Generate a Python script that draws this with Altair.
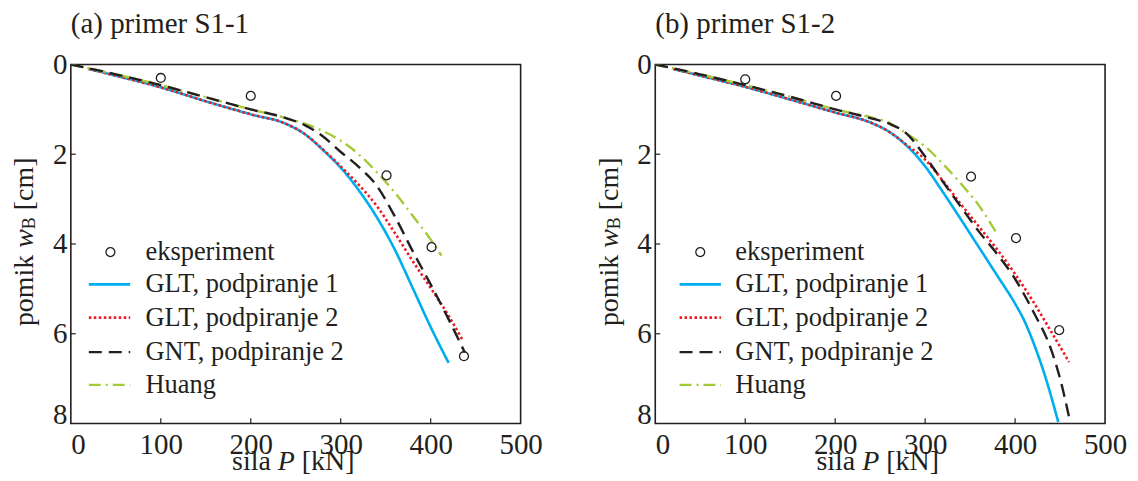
import altair as alt
import pandas as pd

FONT = "Liberation Serif"
INK = "#231F20"

# ---------------- data ----------------
SERIES = ["GLT, podpiranje 1", "GLT, podpiranje 2", "GNT, podpiranje 2", "Huang"]
EXP_LABEL = "eksperiment"

# panel (a) primer S1-1
a_exp_P = [100, 200, 351, 401, 437]
a_exp_w = [0.30, 0.70, 2.47, 4.07, 6.50]
a_glt1_P = [20, 50, 100, 150, 200, 240, 260, 280, 300, 320, 340, 360, 380, 400, 420]
a_glt1_w = [0.10, 0.25, 0.51, 0.82, 1.11, 1.33, 1.55, 1.90, 2.30, 2.80, 3.40, 4.12, 4.98, 5.85, 6.65]
a_glt2_P = [20, 50, 100, 150, 200, 240, 260, 280, 300, 320, 340, 360, 380, 400, 420, 436]
a_glt2_w = [0.10, 0.25, 0.51, 0.82, 1.11, 1.33, 1.55, 1.89, 2.27, 2.68, 3.15, 3.75, 4.38, 4.98, 5.60, 6.16]
a_gnt_P = [0, 50, 100, 150, 200, 240, 260, 280, 300, 320, 340, 360, 380, 400, 420, 438]
a_gnt_w = [0.00, 0.22, 0.46, 0.73, 1.00, 1.20, 1.35, 1.60, 1.95, 2.28, 2.70, 3.38, 4.16, 4.90, 5.68, 6.42]
a_huang_P = [0, 50, 100, 150, 200, 240, 260, 280, 300, 320, 340, 360, 380, 400, 412]
a_huang_w = [0.00, 0.22, 0.46, 0.73, 1.00, 1.20, 1.32, 1.48, 1.70, 2.00, 2.40, 2.85, 3.37, 3.90, 4.26]

# panel (b) primer S1-2
b_exp_P = [100, 201, 351, 401, 449]
b_exp_w = [0.33, 0.70, 2.50, 3.87, 5.92]
b_glt1_P = [20, 50, 100, 150, 200, 240, 260, 280, 300, 320, 340, 360, 380, 400, 410, 420, 435, 448]
b_glt1_w = [0.10, 0.25, 0.50, 0.78, 1.07, 1.30, 1.50, 1.82, 2.27, 2.85, 3.46, 4.08, 4.70, 5.33, 5.70, 6.18, 7.05, 7.97]
b_glt2_P = [20, 50, 100, 150, 200, 240, 260, 280, 300, 320, 340, 360, 380, 400, 420, 440, 460]
b_glt2_w = [0.10, 0.25, 0.50, 0.78, 1.07, 1.30, 1.50, 1.80, 2.12, 2.60, 3.12, 3.62, 4.12, 4.67, 5.28, 5.95, 6.63]
b_gnt_P = [0, 50, 100, 150, 200, 240, 260, 280, 300, 320, 340, 360, 380, 400, 420, 440, 450, 461]
b_gnt_w = [0.00, 0.22, 0.46, 0.72, 1.00, 1.20, 1.32, 1.55, 2.05, 2.62, 3.18, 3.73, 4.22, 4.78, 5.50, 6.35, 7.00, 7.95]
b_huang_P = [0, 50, 100, 150, 200, 240, 260, 280, 300, 320, 340, 360, 380]
b_huang_w = [0.00, 0.22, 0.46, 0.72, 1.00, 1.18, 1.30, 1.55, 1.83, 2.22, 2.66, 3.15, 3.78]

x_ticks = [0, 100, 200, 300, 400, 500]
y_ticks = [0, 2, 4, 6, 8]

# legend placement (data units of each panel)
legend_rows_w = [4.18, 4.90, 5.64, 6.41, 7.14]
a_leg = dict(circle=44, line0=20, line1=66, text=83)
b_leg = dict(circle=50, line0=27, line1=73, text=89)

# ---------------- styles ----------------
COLORS = ["#00AEEF", "#ED1C24", "#231F20", "#A3CB38"]
DASHES = [[1, 0], [2.5, 2.5], [13, 7], [12, 5, 2, 5]]
WIDTHS = [2.6, 2.6, 2.4, 2.4]
DRAW_ORDER = [0, 1, 3, 2]
W, H = 451, 360


def panel(title, exp_P, exp_w, curves, leg):
    xs = alt.Scale(domain=[0, 500], nice=False)
    ys = alt.Scale(domain=[0, 8], nice=False, reverse=True)
    xaxis = alt.Axis(values=x_ticks, title=None, domain=False, ticks=False, grid=False,
                     labelFont=FONT, labelFontSize=29, labelColor=INK, labelPadding=7,
                     labelAlign={"condition": {"test": "datum.value === 0", "value": "left"}, "value": "center"})
    yaxis = alt.Axis(values=y_ticks, title=None, domain=False, ticks=False, grid=False,
                     labelFont=FONT, labelFontSize=29, labelColor=INK, labelPadding=4,
                     labelBaseline={"condition": {"test": "datum.value === 8", "value": "alphabetic"}, "value": "middle"})
    X = alt.X("P:Q", scale=xs, axis=xaxis)
    Y = alt.Y("w:Q", scale=ys, axis=yaxis)
    Xn = alt.X("P:Q", scale=xs)
    Yn = alt.Y("w:Q", scale=ys)

    layers = []
    # inward ticks
    xt = pd.DataFrame({"P": x_ticks[1:-1], "w": [8] * 4, "w2": [8 - 0.12] * 4})
    layers.append(alt.Chart(xt).mark_rule(color=INK, strokeWidth=1.2).encode(x=X, y=Y, y2="w2:Q"))
    yt = pd.DataFrame({"P": [0] * 3, "P2": [5.5] * 3, "w": y_ticks[1:-1]})
    layers.append(alt.Chart(yt).mark_rule(color=INK, strokeWidth=1.2).encode(x=Xn, x2="P2:Q", y=Yn))

    for i in DRAW_ORDER:
        P, w = curves[i]
        df = pd.DataFrame({"P": P, "w": w})
        layers.append(alt.Chart(df).mark_line(color=COLORS[i], strokeDash=DASHES[i],
                                              strokeWidth=WIDTHS[i], clip=True,
                                              interpolate="monotone")
                      .encode(x=Xn, y=Yn))
        ld = pd.DataFrame({"P": [leg["line0"]], "P2": [leg["line1"]], "w": [legend_rows_w[i + 1]]})
        layers.append(alt.Chart(ld).mark_rule(color=COLORS[i], strokeDash=DASHES[i],
                                              strokeWidth=WIDTHS[i])
                      .encode(x=Xn, x2="P2:Q", y=Yn))

    ex = pd.DataFrame({"P": exp_P + [leg["circle"]], "w": exp_w + [legend_rows_w[0]]})
    layers.append(alt.Chart(ex).mark_point(shape="circle", filled=False, size=80,
                                           stroke=INK, strokeWidth=1.3, opacity=1)
                  .encode(x=Xn, y=Yn))

    lt = pd.DataFrame({"P": [leg["text"]] * 5, "w": legend_rows_w, "label": [EXP_LABEL] + SERIES})
    layers.append(alt.Chart(lt).mark_text(align="left", baseline="middle", font=FONT,
                                          fontSize=26.5, color=INK)
                  .encode(x=Xn, y=Yn, text="label:N"))

    def txt(s, x, y, size=28, style="normal", align="left", angle=0):
        return alt.Chart(pd.DataFrame({"t": [s]})).mark_text(
            align=align, baseline="alphabetic", font=FONT, fontSize=size, fontStyle=style,
            color=INK, angle=angle).encode(x=alt.value(x), y=alt.value(y), text="t:N")

    # panel title
    layers.append(txt(title, 0, -31.2, size=29))
    # x title: sila P [kN]   (pieces, 7px word gap)
    x0, xb = 207.5, 407.0
    layers.append(txt("sila", x0 - 7, xb, align="right"))
    layers.append(txt("P", x0, xb, style="italic"))
    layers.append(txt("[kN]", x0 + 17.1 + 7, xb))
    # y title: pomik w_B [cm]  (rotated, reading upward)
    yx, y0 = -37.5, 183.8
    layers.append(txt("pomik", yx, y0 + 7, align="right", angle=270))
    layers.append(txt("w", yx, y0, style="italic", angle=270))
    layers.append(txt("B", yx + 2, y0 - 18.7, size=18, angle=270))
    layers.append(txt("[cm]", yx, y0 - 18.7 - 12.0 - 7, angle=270))

    return alt.layer(*layers).properties(width=W, height=H)


pa = panel("(a) primer S1-1", a_exp_P, a_exp_w,
           [(a_glt1_P, a_glt1_w), (a_glt2_P, a_glt2_w), (a_gnt_P, a_gnt_w), (a_huang_P, a_huang_w)], a_leg)
pb = panel("(b) primer S1-2", b_exp_P, b_exp_w,
           [(b_glt1_P, b_glt1_w), (b_glt2_P, b_glt2_w), (b_gnt_P, b_gnt_w), (b_huang_P, b_huang_w)], b_leg)

chart = (alt.hconcat(pa, pb, spacing=51)
         .properties(padding={"left": 2, "top": 1, "right": 2, "bottom": -3}, background="white")
         .configure_view(stroke=INK, strokeWidth=1.6))

chart.save("out.html", embed_options={"renderer": "svg", "actions": False})
